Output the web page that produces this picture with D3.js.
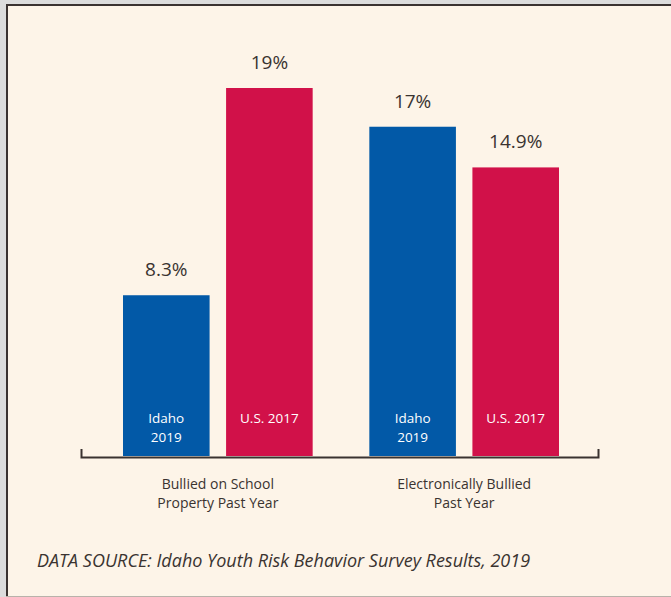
<!DOCTYPE html>
<html><head><meta charset="utf-8">
<script src="https://cdn.jsdelivr.net/npm/d3@7"></script>
<style>body{margin:0;background:#fff;}svg{display:block;}</style>
</head><body>
<script>
const categories = ["Bullied on School|Property Past Year", "Electronically Bullied|Past Year"];
const seriesNames = ["Idaho|2019", "U.S. 2017"];
const idaho2019 = [8.3, 17];
const us2017 = [19, 14.9];
const valueLabels = [["8.3%", "19%"], ["17%", "14.9%"]];
const sourceText = "DATA SOURCE: Idaho Youth Risk Behavior Survey Results, 2019";

const W = 671, H = 597;
const colors = ["#0259a7", "#d11149"];
const textColor = "#3a3330";
const font = "'Open Sans', Lato, sans-serif";

const svg = d3.select("body").append("svg").attr("width", W).attr("height", H);
svg.append("rect").attr("x",0).attr("y",0).attr("width",W).attr("height",H).attr("fill","#dcdcdc");
svg.append("rect").attr("x",6).attr("y",4).attr("width",W).attr("height",592).attr("fill","#fdf4e8");
svg.append("line").attr("x1",6).attr("x2",W).attr("y1",5).attr("y2",5).attr("stroke","#3a3230").attr("stroke-width",2);
svg.append("line").attr("x1",7).attr("x2",7).attr("y1",4).attr("y2",596).attr("stroke","#3a3230").attr("stroke-width",2);
svg.append("line").attr("x1",6).attr("x2",W).attr("y1",596.5).attr("y2",596.5).attr("stroke","#b8b2aa").attr("stroke-width",1);

const baseY = 456;
const y = d3.scaleLinear().domain([0, 19]).range([baseY, 88]);
const x0 = d3.scaleBand().domain(d3.range(categories.length)).range([123, 559]).paddingInner(0.23).paddingOuter(0);
const x1 = d3.scaleBand().domain([0,1]).range([0, x0.bandwidth()]).paddingInner(0.16);

const data = categories.map((c, i) => ({cat: c, i, vals: [idaho2019[i], us2017[i]]}));

const g = svg.append("g");
data.forEach(d => {
  d.vals.forEach((v, s) => {
    const bx = x0(d.i) + x1(s);
    const bw = x1.bandwidth();
    g.append("rect").attr("x", bx).attr("y", y(v)).attr("width", bw).attr("height", baseY - y(v)).attr("fill", colors[s]);
    g.append("text").attr("x", bx + bw/2).attr("y", y(v) - 19).attr("text-anchor","middle")
      .attr("font-family", font).attr("font-size", 19).attr("fill", textColor).text(valueLabels[d.i][s]);
    const lines = seriesNames[s].split("|");
    lines.forEach((ln, k) => {
      g.append("text").attr("x", bx + bw/2).attr("y", 423 + k*19).attr("text-anchor","middle")
        .attr("font-family", font).attr("font-size", 13.5).attr("fill", "#fff").text(ln);
    });
  });
  const cx = x0(d.i) + x0.bandwidth()/2;
  d.cat.split("|").forEach((ln, k) => {
    g.append("text").attr("x", cx).attr("y", 489 + k*19).attr("text-anchor","middle")
      .attr("font-family", font).attr("font-size", 14).attr("fill", textColor).text(ln);
  });
});

// axis
const axis = d3.axisBottom(d3.scaleLinear().domain([0,1]).range([81, 598])).tickValues([]).tickSizeOuter(-8);
const ag = svg.append("g").attr("transform", `translate(0,${baseY+1})`).call(axis);
ag.select(".domain").attr("stroke", "#3a3230").attr("stroke-width", 2);

svg.append("text").attr("x", 37).attr("y", 567).attr("font-family", font).attr("font-style","italic")
  .attr("font-size", 18).attr("fill", textColor).text(sourceText);
</script>
</body></html>
